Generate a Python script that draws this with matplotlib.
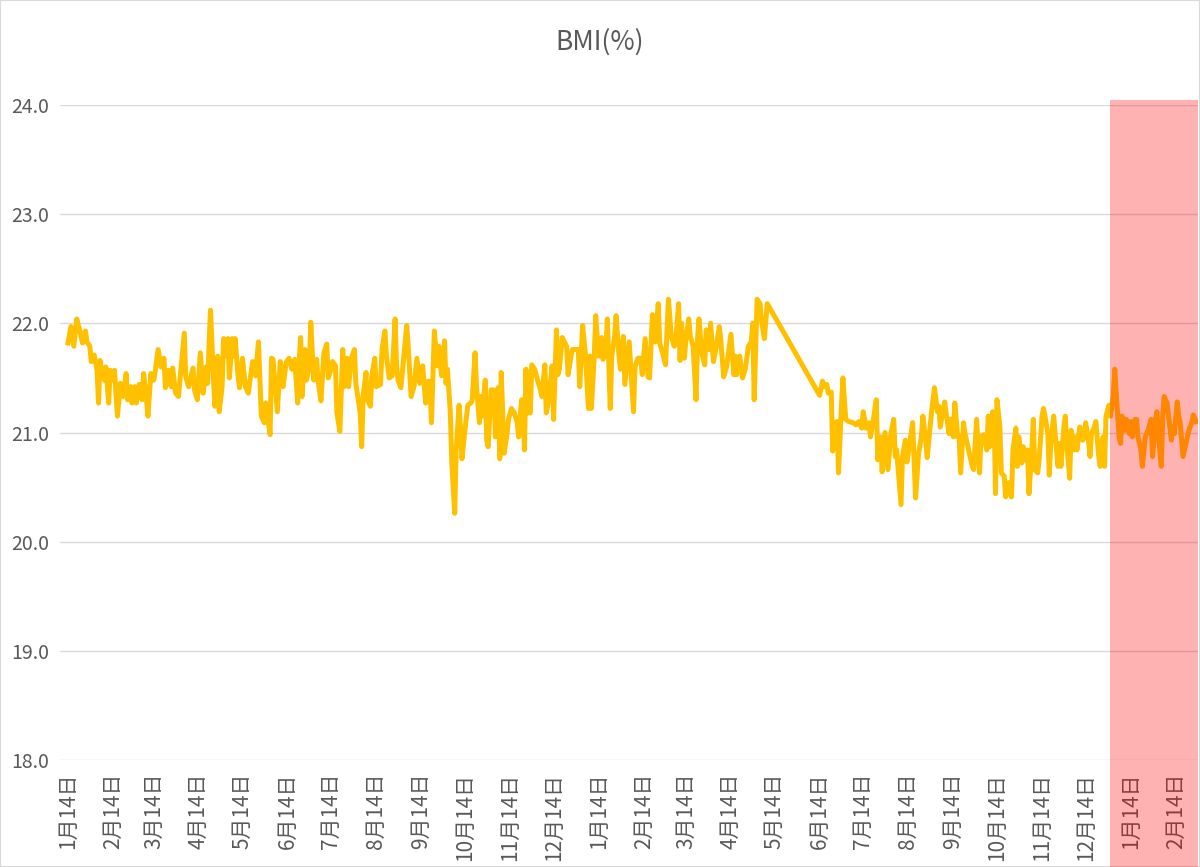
import numpy as np
import matplotlib
matplotlib.use('Agg')
import matplotlib.pyplot as plt
import matplotlib.dates as mdates
import matplotlib.transforms as mtransforms
from matplotlib.patches import Rectangle
from matplotlib.ticker import FuncFormatter

plt.rcParams['font.family'] = ['Noto Sans CJK JP', 'DejaVu Sans']

# data: days since the first measurement (2019-01-14) and BMI values
start_date = '2019-01-14'
days = [
    0, 2, 4, 6, 8, 10, 12, 13, 15, 16, 18, 20, 21, 22, 23, 25, 26, 28, 29, 31,
    32, 34, 36, 38, 40, 41, 43, 44, 46, 47, 49, 51, 52, 54, 55, 57, 59, 60, 62, 64,
    66, 67, 69, 71, 72, 74, 76, 77, 80, 81, 83, 86, 87, 89, 91, 93, 95, 96, 98, 100,
    101, 103, 104, 106, 107, 109, 110, 111, 113, 114, 115, 117, 118, 120, 122, 124,
    127, 129, 131, 133, 135, 136, 139, 140, 141, 144, 146, 148, 150, 152, 154, 156,
    158, 159, 160, 161, 163, 164, 166, 167, 169, 171, 172, 174, 176, 178, 179, 181,
    182, 184, 185, 187, 189, 190, 192, 193, 195, 197, 198, 200, 201, 202, 203, 205,
    206, 208, 209, 211, 212, 215, 216, 218, 219, 221, 223, 225, 226, 227, 229, 231,
    233, 234, 236, 238, 240, 242, 244, 246, 248, 249, 250, 252, 254,
    255, 257, 259, 260, 261, 263, 264, 266, 267, 269, 270, 271, 273, 275, 277, 278,
    280, 281, 283, 284, 285, 287, 288, 289, 291, 292, 293, 294, 296, 297, 298, 300,
    302, 303, 305, 307, 309, 310, 312, 313, 314, 315, 316, 318, 319, 321, 323, 325,
    326, 328, 329, 331, 333, 334, 336, 337, 338, 340, 341, 343, 344, 346, 347, 349,
    351, 352, 354, 356, 358, 359, 360, 362, 363, 365, 367, 368, 370, 371, 373, 374,
    376, 377, 379, 380, 382, 383, 385,
    386, 389, 390, 392, 394, 395, 397, 399, 400, 402, 404, 406, 407, 409, 411, 413,
    415, 417, 418, 420, 421, 422, 424, 425, 427, 428, 430, 432, 433, 434, 436, 438,
    439, 441, 442, 444, 446, 448, 449, 451, 453, 454, 456, 458, 459, 460, 462, 464,
    466, 468, 470, 471, 472, 474, 476, 477, 479, 481,
    517, 519, 520, 522, 523, 525, 526, 528, 529, 530, 532, 533, 535, 537, 540, 542,
    544, 546, 547, 549, 551, 552, 554, 556, 557, 559, 560, 562, 564, 566, 568, 569,
    570, 573, 574, 576, 577, 579, 581, 583, 585, 587, 588, 590, 591,
    594, 596, 598, 599, 600, 601, 603, 605, 606, 607, 609, 610, 612, 613, 614, 616,
    617, 619, 621, 622, 623, 625, 627, 628, 630, 632, 633, 634, 636, 637, 638, 639,
    641, 642, 644, 645,
    647, 649, 650, 652, 653, 654, 656, 657, 659, 660, 661, 663, 664, 665, 667, 668,
    670, 671, 672, 674, 675, 676, 678, 679, 681, 682, 683, 685, 686, 687, 689, 690,
    692, 693, 694, 696, 698, 699, 700, 702, 703, 704, 706, 707, 709, 710, 712, 713,
    714, 716, 717, 719, 720, 721, 723, 724, 725, 727, 728, 730, 731, 732, 734, 735,
    736, 738, 739, 741, 742, 743, 745, 746, 748, 749, 750, 752, 753, 754, 756, 757,
    759, 760, 761, 763, 764, 765, 767, 768, 770, 771, 773, 774, 776,
]
bmi = [
    21.82, 21.97, 21.79, 22.04, 21.94, 21.82, 21.93, 21.83, 21.79, 21.65, 21.71, 21.57, 21.27, 21.66, 21.57, 21.48, 21.60, 21.27, 21.57, 21.48,
    21.57, 21.15, 21.45, 21.33, 21.54, 21.30, 21.42, 21.27, 21.42, 21.27, 21.44, 21.30, 21.54, 21.30, 21.15, 21.54, 21.48, 21.56, 21.76, 21.60,
    21.68, 21.41, 21.57, 21.42, 21.59, 21.36, 21.33, 21.48, 21.91, 21.51, 21.42, 21.59, 21.39, 21.30, 21.73, 21.36, 21.60, 21.45, 22.12, 21.51,
    21.24, 21.70, 21.19, 21.42, 21.86, 21.70, 21.86, 21.50, 21.86, 21.70, 21.86, 21.51, 21.41, 21.68, 21.42, 21.36,
    21.65, 21.52, 21.83, 21.15, 21.09, 21.27, 20.98, 21.68, 21.67, 21.19, 21.65, 21.42, 21.64, 21.68, 21.58, 21.67,
    21.27, 21.64, 21.87, 21.33, 21.76, 21.48, 21.61, 22.01, 21.48, 21.67, 21.48, 21.29, 21.73, 21.81, 21.50, 21.58,
    21.65, 21.61, 21.18, 21.01, 21.76, 21.42, 21.68, 21.42, 21.68, 21.76, 21.45, 21.27, 21.18, 20.87, 21.33, 21.55,
    21.30, 21.24, 21.52, 21.68, 21.42, 21.44, 21.76, 21.93, 21.70, 21.50, 21.52, 22.04, 21.61, 21.48, 21.41, 21.70,
    21.98, 21.79, 21.33, 21.42, 21.68, 21.45, 21.61, 21.27, 21.47, 21.42, 21.09, 21.93, 21.61,
    21.79, 21.52, 21.84, 21.45, 21.58, 21.18, 20.72, 20.26, 20.84, 21.25, 21.02, 20.76, 21.02, 21.25, 21.27, 21.29,
    21.73, 21.42, 21.09, 21.33, 21.15, 21.48, 20.93, 20.87, 21.39, 21.39, 21.39, 20.96, 21.41, 20.76, 21.55, 20.81,
    20.99, 21.12, 21.22, 21.18, 21.09, 20.96, 21.30, 21.15, 20.84, 21.58, 21.18, 21.18, 21.62, 21.58, 21.48, 21.39,
    21.33, 21.62, 21.18, 21.33, 21.61, 21.12, 21.94, 21.53, 21.58, 21.87, 21.84, 21.79, 21.53, 21.70, 21.76, 21.76,
    21.76, 21.42, 21.98, 21.70, 21.22, 21.70, 21.22, 21.70, 22.07, 21.70, 21.87, 21.67, 21.76, 22.04, 21.22, 21.70,
    21.88, 22.07, 21.70, 21.58, 21.88, 21.44, 21.70,
    21.83, 21.19, 21.60, 21.68, 21.68, 21.53, 21.86, 21.51, 21.50, 22.08, 21.83, 22.18, 21.82, 21.73, 21.62, 22.22,
    21.88, 21.79, 21.82, 22.18, 21.66, 22.00, 21.68, 21.85, 22.04, 21.88, 21.79, 21.30, 21.85, 22.04, 21.73, 21.62,
    21.94, 21.76, 22.00, 21.65, 21.79, 21.97, 21.85, 21.51, 21.60, 21.70, 21.90, 21.53, 21.70, 21.53, 21.70, 21.50,
    21.59, 21.79, 21.83, 22.00, 21.30, 22.22, 22.18, 22.03, 21.86, 22.18,
    21.34, 21.47, 21.42, 21.44, 21.36, 21.37, 20.83, 21.09, 21.10, 20.63, 21.24, 21.50, 21.12, 21.10, 21.09, 21.07,
    21.10, 21.04, 21.19, 21.04, 21.09, 20.96, 21.12, 21.30, 20.75, 20.96, 20.64, 21.00, 20.66, 20.99, 21.12, 20.78,
    20.84, 20.34, 20.78, 20.93, 20.73, 20.90, 21.09, 20.40, 20.80, 20.96, 21.15, 20.93, 20.77,
    21.19, 21.41, 21.19, 21.24, 21.05, 21.13, 21.28, 21.09, 20.99, 21.12, 20.96, 21.27, 20.96, 20.96, 20.63, 21.09,
    20.99, 20.87, 20.75, 20.69, 20.66, 21.12, 20.63, 20.96, 20.98, 20.84, 21.15, 20.87, 21.19, 21.18, 20.44, 21.30,
    21.05, 20.63, 20.60, 20.41,
    20.54, 20.41, 20.84, 21.04, 20.69, 20.96, 20.72, 20.87, 20.75, 20.84, 20.44, 20.84, 21.12, 20.66, 20.63, 20.75,
    21.15, 21.22, 21.15, 20.99, 20.61, 20.90, 21.15, 20.99, 20.69, 20.90, 20.69, 21.05, 21.15, 20.90, 20.58, 21.02,
    20.84, 20.96, 20.84, 21.05, 20.93, 20.96, 21.09, 20.92, 20.78, 20.99, 21.05, 21.10, 20.78, 20.69, 20.96, 20.69,
    21.15, 21.25, 21.15, 21.33, 21.58, 21.36, 20.96, 20.90, 21.15, 21.02, 21.12, 20.99, 21.10, 20.96, 21.12, 21.12,
    20.96, 20.84, 20.69, 20.96, 20.99, 21.02, 21.12, 20.78, 21.10, 21.19, 20.99, 20.69, 21.15, 21.33, 21.27, 21.15,
    20.93, 21.05, 20.99, 21.28, 21.15, 21.09, 20.78, 20.84, 20.96, 21.02, 21.09, 21.16, 21.10,
]
highlight_start = '2020-12-31'
y_ticks = [18.0, 19.0, 20.0, 21.0, 22.0, 23.0, 24.0]

dates = np.datetime64(start_date) + np.array(days).astype('timedelta64[D]')

fig = plt.figure(figsize=(12, 8.67), dpi=100)
ax = fig.add_axes([0.05, 0.1234, 0.948, 0.7555])

ax.plot(dates, bmi, color='#FFC000', lw=3.6, solid_joinstyle='round', zorder=3)

ax.set_ylim(18, 24)
ax.set_yticks(y_ticks)
ax.yaxis.set_major_formatter(FuncFormatter(lambda v, p: f'{v:.1f}'))
ax.set_xlim(np.datetime64(start_date) - np.timedelta64(132, 'h'),
            np.datetime64(start_date) + np.timedelta64(777, 'D'))
ax.xaxis.set_major_locator(mdates.MonthLocator(bymonthday=14))
ax.xaxis.set_major_formatter(FuncFormatter(
    lambda v, p: f'{mdates.num2date(v).month}月{mdates.num2date(v).day}日'))
plt.setp(ax.get_xticklabels(), rotation=90)

ax.grid(axis='y', color='#D9D9D9', lw=1)
ax.set_axisbelow(True)
for s in ax.spines.values():
    s.set_visible(False)
ax.tick_params(length=0, labelsize=14, labelcolor='#595959')
ax.tick_params(axis='x', labelsize=15, pad=9)
ax.tick_params(axis='y', pad=8)

fig.text(0.5, 1 - 42 / 867, 'BMI(%)', ha='center', va='center',
         fontsize=19, color='#595959')

# translucent red band over the latest period
trans = mtransforms.blended_transform_factory(ax.transData, fig.transFigure)
x0 = mdates.date2num(np.datetime64(highlight_start))
band = Rectangle((x0, 0), 60, 1 - 100 / 867, transform=trans,
                 facecolor='#FF0000', alpha=0.3, edgecolor='none',
                 clip_on=False, zorder=10)
fig.add_artist(band)

fig.add_artist(Rectangle((0, 0), 1, 1, transform=fig.transFigure, fill=False,
                         edgecolor='#D9D9D9', lw=1.5))

fig.savefig('out.png', dpi=100)
